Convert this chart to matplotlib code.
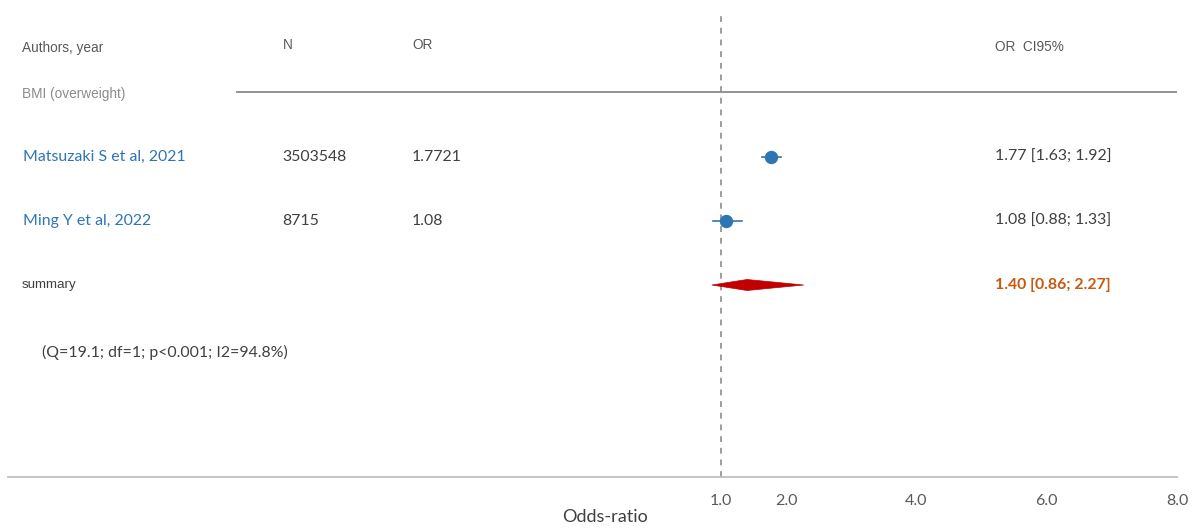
import matplotlib
matplotlib.use("Agg")
import matplotlib.pyplot as plt
from matplotlib.patches import Polygon

# Study data
studies = ["Matsuzaki S et al, 2021", "Ming Y et al, 2022"]
sample_n = ["3503548", "8715"]
or_text = ["1.7721", "1.08"]
or_est = [1.77, 1.08]
ci_low = [1.63, 0.88]
ci_high = [1.92, 1.33]

# Pooled estimate
sum_est = 1.40
sum_low = 0.86
sum_high = 2.27
heterogeneity = "(Q=19.1; df=1; p<0.001; I2=94.8%)"

group_label = "BMI (overweight)"
tick_values = [1.0, 2.0, 4.0, 6.0, 8.0]
tick_labels = ["1.0", "2.0", "4.0", "6.0", "8.0"]

W, H = 1200, 528
fig = plt.figure(figsize=(W / 100, H / 100), dpi=100)
fig.patch.set_facecolor("white")

# Axes spanning the full row width; y in pixel units from the top
ax = fig.add_axes([8 / W, (H - 477) / H, (1177 - 8) / W, (477 - 0) / H])
ax.set_xlim(-9.945, 7.957)
ax.set_ylim(477, 0)

for s in ["top", "right", "left"]:
    ax.spines[s].set_visible(False)
ax.spines["bottom"].set_color("#bfbfbf")
ax.spines["bottom"].set_linewidth(1.3)
ax.set_yticks([])
ax.set_xticks(tick_values)
ax.set_xticklabels(tick_labels, family="Lato", fontsize=11.5, color="#595959")
ax.tick_params(axis="x", length=0, pad=12)

SANS = "Liberation Sans"
CAL = "Lato"
HEAD = "#595959"
BLUE = "#2E75B6"
DARK = "#404040"
FS = 11.4

row_y = [157, 221]
sum_y = 285

def px(x):
    return x / W

def py(y):
    return 1 - y / H

# Header
fig.text(px(22), py(48), "Authors, year", family=SANS, fontsize=9.8, color=HEAD, va="center")
fig.text(px(283), py(45), "N", family=SANS, fontsize=9.8, color=HEAD, va="center")
fig.text(px(412), py(45), "OR", family=SANS, fontsize=9.8, color=HEAD, va="center")
fig.text(px(995), py(47), "OR  CI95%", family=SANS, fontsize=9.8, color=HEAD, va="center")
fig.text(px(22), py(94), group_label, family=SANS, fontsize=9.8, color="#8c8c8c", va="center")

# Separator under the header
ax.plot([ax.get_xlim()[0] + (237 - 8) / 65.3, ax.get_xlim()[1]], [92, 92],
        color="#808080", lw=1.2, solid_capstyle="butt")

# Reference line at OR = 1
ax.axvline(1.0, ymin=0, ymax=(477 - 12) / 477, color="#8c8c8c", lw=1.2,
           linestyle=(0, (3.5, 3.5)))

# Study rows
for i, y in enumerate(row_y):
    fig.text(px(23), py(y), studies[i], family=CAL, fontsize=FS, color=BLUE, va="center")
    fig.text(px(282), py(y), sample_n[i], family=CAL, fontsize=FS, color=DARK, va="center")
    fig.text(px(412), py(y), or_text[i], family=CAL, fontsize=FS, color=DARK, va="center")
    fig.text(px(995), py(y), f"{or_est[i]:.2f} [{ci_low[i]:.2f}; {ci_high[i]:.2f}]",
             family=CAL, fontsize=FS, color=DARK, va="center")
    ax.plot([ci_low[i], ci_high[i]], [y, y], color=BLUE, lw=1.2, zorder=3)
    ax.plot([or_est[i]], [y], "o", color=BLUE, markersize=8.6, zorder=4)

# Summary row
fig.text(px(22), py(sum_y), "summary", family=SANS, fontsize=9.6, color=DARK, va="center")
diamond = Polygon([[sum_low, sum_y], [sum_est, sum_y - 5.5], [sum_high, sum_y],
                   [sum_est, sum_y + 5.5]], closed=True, facecolor="#C00000",
                  edgecolor="#C00000", lw=0.5, zorder=4)
ax.add_patch(diamond)
fig.text(px(995), py(sum_y), f"{sum_est:.2f} [{sum_low:.2f}; {sum_high:.2f}]",
         family=CAL, fontsize=FS, color="#C55A11", fontweight="bold", va="center")

fig.text(px(42), py(352), heterogeneity, family=CAL, fontsize=FS, color=DARK, va="center")

# Axis title
fig.text(px(605), py(517), "Odds-ratio", family=CAL, fontsize=13, color="#404040",
         ha="center", va="center")

fig.savefig("out.png", dpi=100, facecolor="white")
